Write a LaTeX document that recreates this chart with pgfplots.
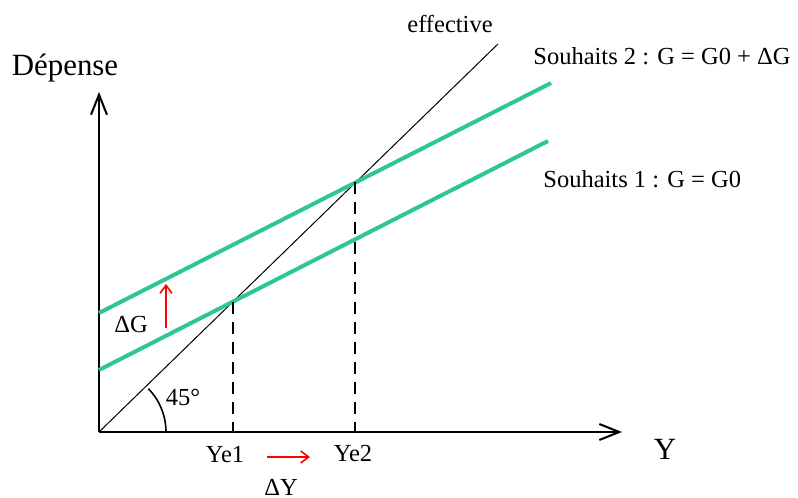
\documentclass[border=0pt]{standalone}
\usepackage{fontspec}
\setmainfont{Liberation Serif}
\usepackage{pgfplots}
\pgfplotsset{compat=1.18}
\usetikzlibrary{arrows.meta}
\definecolor{vert}{RGB}{46,199,148}
\tikzset{lab/.style={font=\fontsize{12.3}{14}\selectfont,inner sep=0pt},
         big/.style={font=\fontsize{15.5}{18}\selectfont,inner sep=0pt}}
\begin{document}
\begin{tikzpicture}
\begin{axis}[x=0.5bp,y=0.5bp,xmin=0,xmax=798,ymin=0,ymax=498,y dir=reverse,
  hide axis,clip=false]
% fixed frame of the picture
\path (axis cs:0,0) rectangle (axis cs:798,498);
% axes
\draw[line width=1bp,-{Straight Barb[length=10bp,width=8bp,line width=1bp]}] (axis cs:99,432) -- (axis cs:99,92);
\draw[line width=1bp,-{Straight Barb[length=10bp,width=8bp,line width=1bp]}] (axis cs:99,432) -- (axis cs:622,432);
% effective (45 degree line)
\addplot[black,line width=0.5bp] coordinates {(99,432) (498,44)};
% souhaits 1 and 2
\addplot[vert,line width=2bp] coordinates {(99,370) (548,141)};
\addplot[vert,line width=2bp] coordinates {(99,313) (551,83)};
% dashed guides
\addplot[black,line width=1bp,dash pattern=on 6bp off 4bp] coordinates {(233,302) (233,432)};
\addplot[black,line width=1bp,dash pattern=on 6bp off 4bp] coordinates {(355,182) (355,432)};
% angle arc
\draw[line width=0.8bp] (axis cs:166,432) arc[start angle=0,end angle=44.3,radius=31bp];
% red arrows
\draw[red,line width=0.8bp,-{Straight Barb[length=4bp,width=6bp,line width=0.8bp]}] (axis cs:166,328) -- (axis cs:166,284);
\draw[red,line width=0.8bp,-{Straight Barb[length=4bp,width=6bp,line width=0.8bp]}] (axis cs:267,457) -- (axis cs:310,457);
% labels
\node[big,anchor=base] at (axis cs:65,76) {Dépense};
\node[big,anchor=base] at (axis cs:665,460) {Y};
\node[lab,anchor=base] at (axis cs:450,33) {effective};
\node[lab,anchor=base west] at (axis cs:533,65) {Souhaits 2 : G = G0 + ΔG};
\node[lab,anchor=base west] at (axis cs:543,188) {Souhaits 1 : G = G0};
\node[lab,anchor=base] at (axis cs:131,333) {ΔG};
\node[lab,anchor=base] at (axis cs:183,406) {45°};
\node[lab,anchor=base] at (axis cs:225,463) {Ye1};
\node[lab,anchor=base] at (axis cs:353,462) {Ye2};
\node[lab,anchor=base] at (axis cs:281,495) {ΔY};
\end{axis}
\end{tikzpicture}
\end{document}
